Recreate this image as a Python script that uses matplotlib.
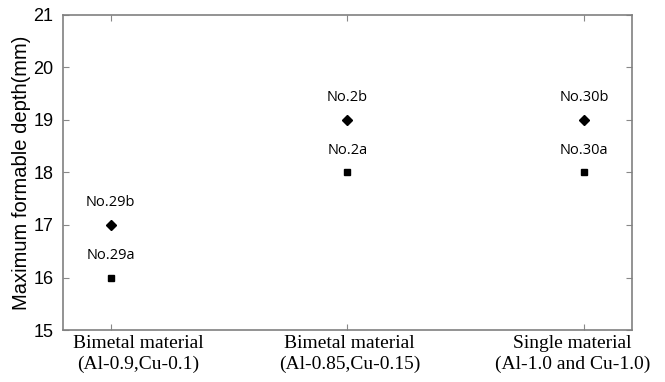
import matplotlib.pyplot as plt
import matplotlib.transforms as mtransforms

categories = ['Bimetal material\n(Al-0.9,Cu-0.1)',
              'Bimetal material\n(Al-0.85,Cu-0.15)',
              'Single material\n(Al-1.0 and Cu-1.0)']
depth_a = [16, 18, 18]
depth_b = [17, 19, 19]
labels_a = ['No.29a', 'No.2a', 'No.30a']
labels_b = ['No.29b', 'No.2b', 'No.30b']

x = list(range(1, len(categories) + 1))

fig = plt.figure(figsize=(6.65, 3.82), dpi=100)
ax = fig.add_axes([0.095, 0.136, 0.855, 0.825])

ax.plot(x, depth_a, linestyle='none', marker='s', markersize=5, color='black')
ax.plot(x, depth_b, linestyle='none', marker='D', markersize=5.5, color='black')

for xi, ya, yb, la, lb in zip(x, depth_a, depth_b, labels_a, labels_b):
    ax.text(xi, ya + 0.42, la, ha='center', va='center', fontsize=10.5, family='Open Sans')
    ax.text(xi, yb + 0.42, lb, ha='center', va='center', fontsize=10.5, family='Open Sans')

ax.set_xlim(0.8, 3.2)
ax.set_ylim(15, 21)
ax.set_xticks(x)
ax.set_xticklabels([])
ax.set_yticks(range(15, 22))
ax.set_yticklabels([str(v) for v in range(15, 22)], family='Liberation Sans', fontsize=13)
ax.set_ylabel('Maximum formable depth(mm)', family='Liberation Sans', fontsize=14.5, labelpad=2)

# category labels under the ticks, nudged sideways (pixels at 100 dpi)
shifts = [28, 2, -12]
for xi, cat, dx in zip(x, categories, shifts):
    tr = ax.get_xaxis_transform() + mtransforms.ScaledTranslation(
        dx / 100, -5 / 100, fig.dpi_scale_trans)
    ax.text(xi, 0, cat, transform=tr, ha='center', va='top', multialignment='center',
            family='Liberation Serif', fontsize=14, linespacing=1.3)

ax.tick_params(direction='in', length=4, top=True, right=True, color='#888888')
ax.tick_params(axis='y', pad=7)
for s in ax.spines.values():
    s.set_color('#808080')
    s.set_linewidth(1.2)

fig.savefig('out.png', dpi=100)
